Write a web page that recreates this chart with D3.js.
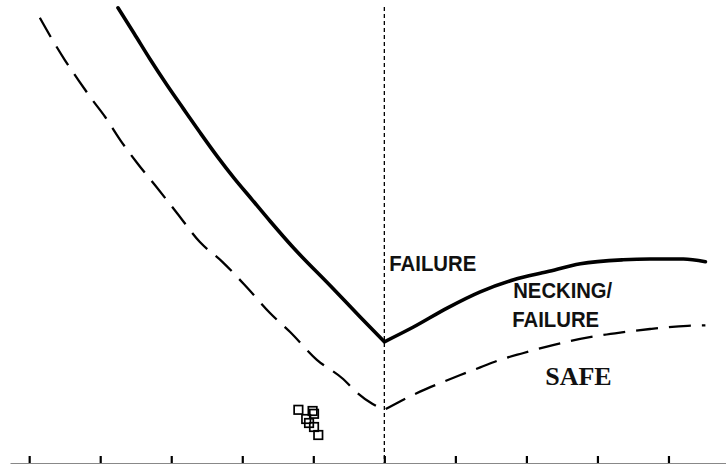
<!DOCTYPE html>
<html>
<head>
<meta charset="utf-8">
<script src="https://cdn.jsdelivr.net/npm/d3@7"></script>
<style>
  html, body { margin: 0; padding: 0; background: #fff; }
  svg { display: block; }
</style>
</head>
<body>
<svg id="chart" width="726" height="465"></svg>
<script>
// Forming limit diagram: minor strain (x, %) vs major strain (y, %)

// Tick positions along the minor-strain axis
const minorTicks = [-50, -40, -30, -20, -10, 0, 10, 20, 30, 40];

// Forming limit curve (failure), drawing side then stretching side
const flcLeftMinor  = [-37.5, -35.2, -33.0, -30.6, -28.3, -25.9, -23.5, -21.1, -18.6, -16.1, -12.8, -7.6, -3.4, 0];
const flcLeftMajor  = [113.8, 107.3, 101.0, 94.5, 88.6, 82.5, 76.6, 71.1, 65.8, 60.5, 53.8, 44.3, 36.5, 30.3];
const flcRightMinor = [0, 4.1, 8.9, 13.5, 18.2, 22.9, 27.6, 33.6, 37.4, 42.1, 45.2];
const flcRightMajor = [30.3, 34.0, 38.8, 42.8, 45.8, 47.8, 49.8, 50.8, 51.0, 51.0, 50.3];

// Safety margin curve (dashed)
const safeLeftMinor  = [-48.5, -46.8, -45.0, -43.1, -41.2, -39.3, -37.2, -34.8, -32.3, -29.2, -26.0, -22.8, -19.3, -16.1, -13.3, -9.5, -5.8, -4.1, -1.7, 0];
const safeLeftMajor  = [111.3, 106.0, 100.8, 95.8, 91.0, 86.5, 80.8, 75.0, 69.5, 62.5, 55.3, 50.3, 43.8, 37.5, 32.8, 25.8, 21.0, 18.0, 14.8, 13.3];
const safeRightMinor = [0, 2.2, 5.1, 7.9, 10.7, 13.5, 16.3, 19.6, 22.9, 26.2, 29.4, 33.2, 37.4, 42.7, 45.2];
const safeRightMajor = [13.3, 15.4, 17.9, 20.0, 22.0, 23.9, 25.8, 27.5, 29.1, 30.5, 31.6, 32.6, 33.5, 34.3, 34.4];

// Measured strains
const pointMinor = [-12.1, -11.0, -10.1, -9.9, -10.6, -9.9, -9.3];
const pointMajor = [13.3, 11.0, 13.0, 12.3, 10.0, 9.0, 7.0];

// Region labels
const sans = "bold 22px 'Liberation Sans', Arial, sans-serif";
const labels = [
  { text: "FAILURE",  minor: 0.7,   major: 48.1, font: sans, len: 87 },
  { text: "NECKING/", minor: 18.15, major: 41.2, font: sans, len: 99 },
  { text: "FAILURE",  minor: 18.0,  major: 34.1, font: sans, len: 87 },
  { text: "SAFE",     minor: 22.65, major: 19.4, font: "bold 26px 'Liberation Serif', 'Times New Roman', serif", len: null }
];

const svg = d3.select("#chart");

const x = d3.scaleLinear().domain([-52.7, 48.1]).range([10, 726]);
const y = d3.scaleLinear().domain([0, 114]).range([463, 7]);

const zip = (xs, ys) => xs.map((v, i) => [v, ys[i]]);

const line = d3.line()
  .x(d => x(d[0]))
  .y(d => y(d[1]))
  .curve(d3.curveMonotoneX);

// Join both branches into one path so the dash pattern runs continuously
function vPath(lm, lM, rm, rM) {
  const left = line(zip(lm, lM));
  const right = line(zip(rm, rM));
  return left + right.replace(/^M/, "L");
}

// Plane-strain reference line
svg.append("line")
  .attr("x1", x(0)).attr("x2", x(0))
  .attr("y1", y(114)).attr("y2", y(0))
  .attr("stroke", "#000")
  .attr("stroke-width", 1.3)
  .attr("stroke-dasharray", "4,3");

// Axis with upward ticks and no labels
const axis = svg.append("g")
  .attr("transform", `translate(0,${y(0)})`)
  .call(d3.axisBottom(x)
    .tickValues(minorTicks)
    .tickSizeInner(-7)
    .tickSizeOuter(0)
    .tickFormat(""));
axis.select(".domain").attr("stroke", "#888").attr("stroke-width", 1.2);
axis.selectAll(".tick line").attr("stroke", "#000").attr("stroke-width", 2.2);

// Safety curve
svg.append("path")
  .attr("d", vPath(safeLeftMinor, safeLeftMajor, safeRightMinor, safeRightMajor))
  .attr("fill", "none")
  .attr("stroke", "#000")
  .attr("stroke-width", 2.3)
  .attr("stroke-dasharray", "22,11");

// Labels
const lab = svg.selectAll("text.region")
  .data(labels)
  .join("text")
  .attr("class", "region")
  .attr("x", d => x(d.minor))
  .attr("y", d => y(d.major))
  .style("font", d => d.font)
  .attr("fill", "#111")
  .text(d => d.text);
lab.filter(d => d.len)
  .attr("textLength", d => d.len)
  .attr("lengthAdjust", "spacingAndGlyphs");

// Forming limit curve
svg.append("path")
  .attr("d", vPath(flcLeftMinor, flcLeftMajor, flcRightMinor, flcRightMajor))
  .attr("fill", "none")
  .attr("stroke", "#000")
  .attr("stroke-width", 3.6)
  .attr("stroke-linecap", "round")
  .attr("stroke-linejoin", "round");

// Measured points as open squares
const s = 8.5;
svg.selectAll("rect.pt")
  .data(zip(pointMinor, pointMajor))
  .join("rect")
  .attr("class", "pt")
  .attr("x", d => x(d[0]) - s / 2)
  .attr("y", d => y(d[1]) - s / 2)
  .attr("width", s)
  .attr("height", s)
  .attr("fill", "none")
  .attr("stroke", "#000")
  .attr("stroke-width", 1.7);
</script>
</body>
</html>
